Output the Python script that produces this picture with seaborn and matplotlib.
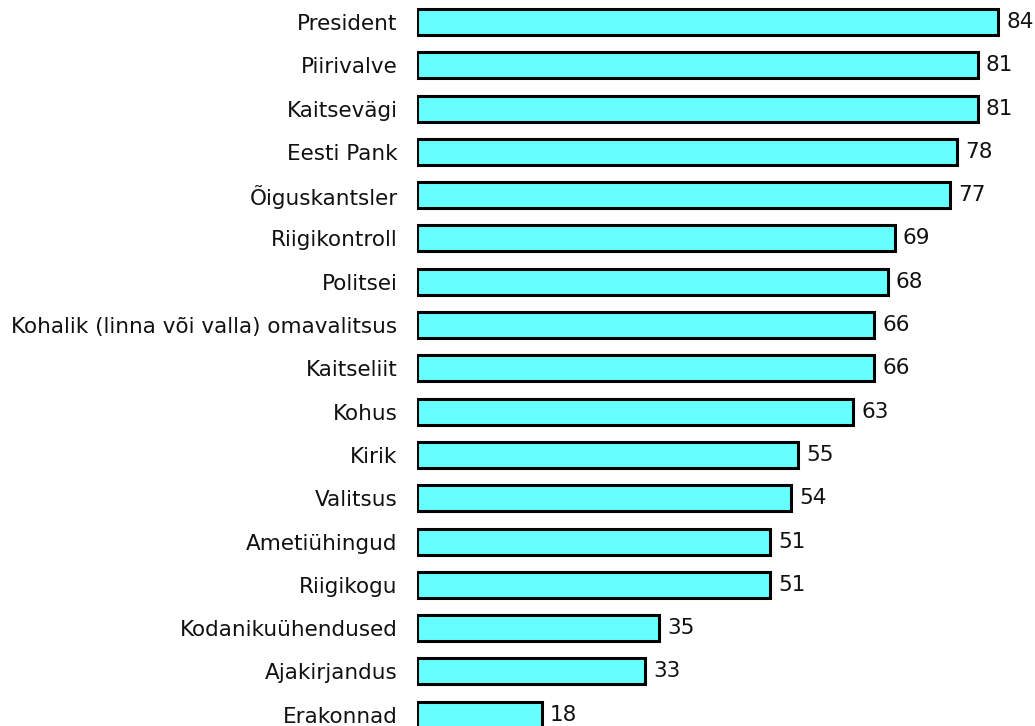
import pandas as pd
import matplotlib
matplotlib.use("Agg")
import matplotlib.pyplot as plt
import seaborn as sns

# Institutions and trust values (%)
institutions = [
    "President", "Piirivalve", "Kaitsevägi", "Eesti Pank", "Õiguskantsler",
    "Riigikontroll", "Politsei", "Kohalik (linna või valla) omavalitsus",
    "Kaitseliit", "Kohus", "Kirik", "Valitsus", "Ametiühingud", "Riigikogu",
    "Kodanikuühendused", "Ajakirjandus", "Erakonnad",
]
values = [84, 81, 81, 78, 77, 69, 68, 66, 66, 63, 55, 54, 51, 51, 35, 33, 18]

df = pd.DataFrame({"institution": institutions, "value": values})

sns.set_theme(style="white")
plt.rcParams["font.family"] = ["DejaVu Sans"]

fig = plt.figure(figsize=(10.35, 7.26), dpi=100)
ax = fig.add_axes([0.4029, 0, 0.5971, 1])

sns.barplot(data=df, y="institution", x="value", orient="h", color="#66FFFF",
            saturation=1, width=0.6, edgecolor="black", linewidth=2.2, ax=ax)

ax.bar_label(ax.containers[0], padding=6, fontsize=15.5, color="#111111")

ax.set_xlim(0, 89.3)
ax.set_ylim(16.26, -0.508)
ax.set_xlabel("")
ax.set_ylabel("")
ax.set_xticks([])
ax.tick_params(axis="y", length=0, pad=14, labelsize=15.5, labelcolor="#111111")
sns.despine(ax=ax, left=True, bottom=True)

fig.savefig("out.png", dpi=100)
plt.close(fig)
